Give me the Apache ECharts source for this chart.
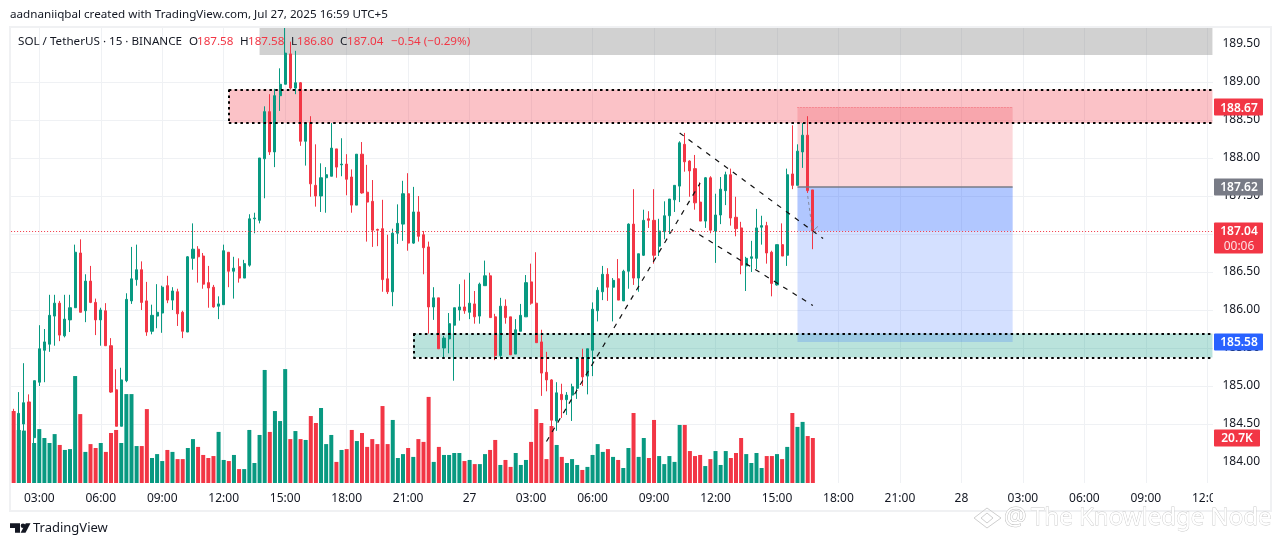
<!DOCTYPE html>
<html>
<head>
<meta charset="utf-8">
<style>html,body{margin:0;padding:0;background:#fff;}#c{width:1281px;height:546px;}</style>
<script src="https://cdn.jsdelivr.net/npm/echarts@6/dist/echarts.min.js"></script>
</head>
<body>
<div id="c"></div>
<script>
const opens=[184.66,184.20,184.50,184.79,184.32,185.05,185.47,185.55,185.92,186.09,185.66,185.87,186.03,186.75,185.99,186.38,186.10,185.87,185.99,185.53,184.95,184.47,185.07,186.12,186.40,186.53,186.12,185.72,185.92,185.96,186.32,186.13,186.24,185.97,185.71,186.68,186.80,186.71,186.36,186.30,186.05,186.07,186.76,186.51,186.57,186.42,186.59,187.20,187.18,187.99,188.61,188.08,188.82,188.97,189.37,188.92,188.99,188.22,188.47,187.64,187.50,187.74,187.76,188.12,187.91,187.92,187.75,187.38,188.05,187.55,187.43,187.06,187.07,186.41,186.24,187.01,187.13,187.53,186.88,187.29,186.99,186.83,186.04,186.16,185.50,185.62,185.80,186.00,186.04,185.97,186.08,185.92,186.32,186.45,185.91,185.40,186.05,185.91,185.42,185.72,185.91,186.37,186.09,185.58,185.18,185.08,184.54,184.89,184.82,184.88,184.97,185.37,185.13,185.47,185.99,186.24,186.47,186.30,186.41,186.12,186.51,187.13,186.42,186.72,187.20,187.18,186.84,187.03,187.24,187.45,187.63,188.18,187.96,187.86,187.42,187.17,187.74,187.04,187.25,187.57,187.78,187.22,187.08,186.58,186.68,186.68,187.09,187.11,186.76,186.33,186.86,186.72,187.79,187.64,188.08,188.30,187.58];
const highs=[184.70,184.92,185.30,184.89,185.07,185.80,185.75,186.20,186.20,186.12,186.20,186.20,186.86,186.93,186.47,186.58,186.15,186.03,186.09,185.63,185.22,185.24,186.22,186.83,186.86,186.64,186.37,186.07,186.34,186.32,186.45,186.30,186.28,185.99,186.71,187.14,186.84,186.75,186.58,186.33,186.18,186.86,186.76,186.70,186.68,186.66,187.26,187.28,188.00,188.68,188.84,188.91,189.18,189.71,189.53,189.41,189.00,188.47,188.55,188.18,187.93,187.88,188.46,188.12,188.26,188.05,187.85,188.05,188.21,187.91,187.71,187.07,187.45,186.99,187.07,187.39,187.70,187.80,187.62,187.50,187.04,186.90,186.30,186.16,185.66,185.96,186.03,186.34,186.40,186.49,186.25,186.36,186.65,186.49,185.95,186.16,186.14,185.91,185.88,186.08,186.46,186.61,186.76,185.74,185.45,185.09,185.05,185.03,184.92,185.03,185.37,185.49,185.49,186.10,186.30,186.58,186.55,186.42,186.67,186.53,187.14,187.59,186.74,187.32,187.30,187.59,187.20,187.43,187.46,187.64,188.22,188.33,187.97,188.04,187.68,187.75,187.76,187.53,187.75,187.82,187.86,187.49,187.16,186.70,186.91,187.33,187.24,187.16,186.78,186.86,187.14,187.86,188.43,188.18,188.46,188.55,187.58];
const lows=[184.30,184.10,184.40,184.20,184.25,185.00,185.05,185.45,185.53,185.59,185.64,185.71,186.03,185.97,185.84,186.09,185.67,185.53,185.53,184.91,184.47,184.47,185.05,186.08,186.32,186.00,185.66,185.68,185.76,185.70,186.09,186.00,185.79,185.63,185.71,186.53,186.36,186.28,186.03,186.03,185.88,186.07,186.30,186.15,186.36,186.42,186.57,187.01,187.14,187.47,188.04,187.88,188.62,188.97,188.90,188.84,188.16,187.90,187.49,187.36,187.29,187.28,187.76,187.74,187.76,187.51,187.28,187.38,187.53,186.90,186.83,186.84,186.24,186.21,186.05,186.87,186.91,186.78,186.87,186.90,186.47,185.69,185.87,185.49,185.37,185.43,185.07,185.86,185.95,185.88,185.82,185.82,186.32,185.90,185.34,185.36,185.82,185.41,185.42,185.72,185.91,186.07,185.57,184.87,184.93,184.45,184.41,184.58,184.62,184.54,184.83,185.00,184.89,185.13,185.85,186.13,186.12,185.85,186.13,186.12,186.28,186.33,186.24,186.71,187.08,186.61,186.71,186.93,187.00,187.29,187.42,187.82,187.49,187.32,187.17,187.08,187.01,186.62,187.13,187.38,187.11,186.97,186.47,186.25,186.50,186.54,186.86,186.61,186.18,186.32,186.71,186.58,187.59,187.64,187.87,187.54,186.80];
const closes=[184.40,184.64,184.78,184.30,185.07,185.49,185.58,185.93,186.09,185.67,185.88,186.03,186.76,185.97,186.38,186.10,185.87,186.00,185.53,184.92,184.47,185.08,186.14,186.41,186.53,186.10,185.71,185.93,185.97,186.30,186.13,186.25,185.95,185.72,186.70,186.80,186.70,186.34,186.29,186.04,186.08,186.78,186.51,186.55,186.42,186.61,187.20,187.21,188.00,188.61,188.08,188.82,188.97,189.38,188.92,188.99,188.22,188.46,187.66,187.50,187.74,187.78,188.13,187.88,187.92,187.72,187.38,188.05,187.54,187.42,187.05,187.05,186.40,186.24,187.01,187.14,187.53,186.88,187.29,186.97,186.82,186.04,186.16,185.49,185.63,185.82,186.03,186.04,185.99,186.09,185.91,186.34,186.45,185.90,185.40,186.05,185.90,185.41,185.74,185.93,186.36,186.09,185.57,185.17,185.08,184.55,184.91,184.82,184.88,184.99,185.37,185.12,185.49,186.01,186.26,186.47,186.30,186.39,186.13,186.51,187.13,186.42,186.74,187.18,187.18,186.72,187.04,187.24,187.46,187.64,188.20,187.95,187.83,187.41,187.17,187.74,187.05,187.25,187.59,187.78,187.21,187.07,186.59,186.68,186.70,187.08,187.11,186.75,186.35,186.86,186.71,187.78,187.64,188.09,188.30,187.57,187.04];
const volumes=[33.1,24.4,24.1,24.1,18.4,24.8,20.7,18.4,22.5,17.5,15.2,15.6,49.2,31.7,14.3,17.9,16.1,18.4,14.3,23,24.4,18.4,40.9,40.9,17,17,34,11.5,13.3,10.1,15.2,14.3,11,11,16.1,20.2,16.6,12.9,11.5,12.4,23.5,10.6,10.1,12.9,6.4,6.4,24.4,9.2,22.1,52,23.5,33.1,28.5,52.4,20.2,23.9,20.2,19.8,30.8,27.6,34.5,17.9,22.1,9.7,15.2,15.6,24.4,19.3,23,16.6,20.2,17.9,35.4,17.9,29,11.5,13.3,16.1,12,20.2,18.9,39.6,9.7,16.6,12.9,12.9,13.8,13.8,10.1,10.6,8.7,8.7,13.3,15.2,19.8,8.3,10.6,7.4,13.8,8.3,10.6,18.9,34,27.6,11,26.2,17.5,12,9.2,11,8.3,6,7.4,12.9,17.9,14.3,15.6,12,10.6,6.9,16.1,32.2,12,20.7,11.5,29,12.4,8.7,12.4,9.7,26.7,26.7,14.7,12.4,12.9,7.8,11,14.7,8.3,14.7,11.5,13.8,20.7,13.3,9.2,13.8,6.9,12.4,12.4,13.3,11,16.6,32.2,25.8,28.1,21.6,20.7];
const tickLabels=['03:00','06:00','09:00','12:00','15:00','18:00','21:00','27','03:00','06:00','09:00','12:00','15:00','18:00','21:00','28','03:00','06:00','09:00','12:00'];
const priceTicks=[184,184.5,185,185.5,186,186.5,187,187.5,188,188.5,189,189.5];
const slotCount=235, firstTickSlot=5, tickEvery=12;
const categories=Array.from({length:slotCount},(_,i)=>String(i));
const GREEN='#089981', RED='#f23645', BLUE='#2962ff', GREY='#787b86', INK='#131722';
const FONT='"Noto Sans", sans-serif';
const isTick=i=>i>=firstTickSlot&&(i-firstTickSlot)%tickEvery===0;

const zones={grey:[48,189.7105,189.355],red:[42,188.90,188.46],green:[78,185.69,185.375]};
const plan={left:153,right:195,target:188.67,entry:187.62,stop:185.58,last:187.04};
const trendLines=[[104,184.27,134,187.67],[130,188.33,158,186.94],[132,187.07,156,186.06]];
const END=234;

const dotted={color:'#000',width:2,type:[2.5,3.3],opacity:1};
function seg(x1,y1,x2,y2,ls){return [{coord:[x1,y1],lineStyle:ls},{coord:[x2,y2]}];}
function area(x1,y1,x2,y2,color){return [{coord:[x1,y1],itemStyle:{color}},{coord:[x2,y2]}];}

const markLines=[
  seg(zones.red[0],zones.red[1],END,zones.red[1],dotted),
  seg(zones.red[0],zones.red[2],END,zones.red[2],dotted),
  seg(zones.red[0],zones.red[1],zones.red[0],zones.red[2],dotted),
  seg(zones.green[0],zones.green[1],END,zones.green[1],dotted),
  seg(zones.green[0],zones.green[2],END,zones.green[2],dotted),
  seg(zones.green[0],zones.green[1],zones.green[0],zones.green[2],dotted),
  ...trendLines.map(t=>seg(t[0],t[1],t[2],t[3],{color:'#111',width:1.2,type:[5,6],opacity:1})),
  seg(plan.left,plan.entry,plan.right,plan.entry,{color:GREY,width:1.5,type:'solid',opacity:1}),
  seg(plan.left,plan.target,plan.right,plan.target,{color:RED,width:1,type:[1,2],opacity:.5}),
  seg(155,187.5,156,187.0,{color:GREY,width:1,type:[3,3],opacity:.8}),
  seg(156,187.04,157,187.1,{color:GREY,width:1,type:'solid',opacity:.8}),
  {yAxis:plan.last,lineStyle:{color:RED,width:1,type:[1,2],opacity:1}}
];
const markAreas=[
  area(zones.grey[0],zones.grey[1],END,zones.grey[2],'rgba(135,135,135,0.38)'),
  area(zones.red[0],zones.red[1],END,zones.red[2],'rgba(242,54,69,0.3)'),
  area(zones.green[0],zones.green[1],END,zones.green[2],'rgba(8,153,129,0.28)'),
  area(plan.left,plan.target,plan.right,plan.entry,'rgba(242,54,69,0.2)'),
  area(plan.left,plan.entry,plan.right,plan.stop,'rgba(41,98,255,0.2)'),
  area(plan.left,plan.entry,plan.right,plan.last,'rgba(41,98,255,0.2)')
];

const chart=echarts.init(document.getElementById('c'),null,{renderer:'canvas',width:1281,height:546});
chart.setOption({
  animation:false,
  backgroundColor:'#fff',
  grid:{left:11.1,top:28,width:1203.9,height:455,containLabel:false},
  xAxis:{type:'category',data:categories,boundaryGap:true,
    axisLine:{show:false},axisTick:{show:false,alignWithLabel:true},
    splitLine:{show:true,alignWithLabel:true,interval:(i)=>isTick(i),lineStyle:{color:'#eff1f4',width:1}},
    axisLabel:{show:true,interval:(i)=>isTick(i),margin:9.5,hideOverlap:false,
      color:INK,fontFamily:FONT,fontSize:12,
      formatter:(v,i)=>isTick(i)?tickLabels[(i-firstTickSlot)/tickEvery]:''}},
  yAxis:[
    {type:'value',position:'right',min:183.7237,max:189.7105,
     axisLine:{show:false},axisTick:{show:false,customValues:priceTicks},
     splitLine:{show:true,showMinLine:false,showMaxLine:false,lineStyle:{color:'#eff1f4',width:1}},
     axisLabel:{margin:7.5,padding:[3,0,0,0],color:INK,fontFamily:FONT,fontSize:12,customValues:priceTicks,
       formatter:v=>Number(v).toFixed(2)}},
    {type:'value',position:'right',min:0,max:209.3,show:false,splitLine:{show:false}}
  ],
  series:[
    {type:'bar',yAxisIndex:1,barWidth:4,z:2,silent:true,
     data:volumes.map((v,i)=>({value:v,itemStyle:{color:closes[i]>opens[i]?GREEN:RED}}))},
    {type:'candlestick',z:3,barWidth:2.6,silent:true,clip:true,
     data:opens.map((o,i)=>[o,closes[i],lows[i],highs[i]]),
     itemStyle:{color:GREEN,color0:RED,borderColor:GREEN,borderColor0:RED,borderWidth:1},
     markArea:{silent:true,z:1,data:markAreas},
     markLine:{silent:true,symbol:'none',z:4,label:{show:false},animation:false,data:markLines}}
  ]
});

const py=v=>chart.convertToPixel({yAxisIndex:0},v);
const vy=v=>chart.convertToPixel({yAxisIndex:1},v);
function txt(x,y,text,fill,o={}){return {type:'text',z:120,silent:true,x,y,style:Object.assign({text,fill,font:`${o.size||11.65}px ${FONT}`,textAlign:o.align||'left',textVerticalAlign:'middle'},o.style||{})};}
function tag(y,h,w,bg,label,sub){
  const out=[{type:'rect',z:110,silent:true,shape:{x:1214,y:y-8.5,width:w,height:h,r:1},style:{fill:bg}}];
  out.push(txt(1239,y+1,label,'#fff',{align:'center',style:{font:`600 12px ${FONT}`}}));
  if(sub) out.push(txt(1239,y+15.5,sub,'rgba(255,255,255,.85)',{align:'center',size:12}));
  return out;
}
const vLast=volumes[volumes.length-1];
const graphics=[
  {type:'rect',z:50,silent:true,shape:{x:1213,y:28,width:3,height:456},style:{fill:'#fff'}},
  {type:'rect',z:50,silent:true,shape:{x:1213,y:484,width:57,height:26},style:{fill:'#fff'}},
  {type:'rect',z:80,silent:true,shape:{x:10,y:27,width:1261,height:484},style:{fill:'none',stroke:'#f0f1f3',lineWidth:2}},
  txt(10,15,'aadnaniiqbal created with TradingView.com, Jul 27, 2025 16:59 UTC+5',INK),
  txt(18,42,'SOL / TetherUS · 15 · BINANCE',INK),
  txt(189,42,'O',INK),txt(197,42,'187.58',RED),
  txt(240,42,'H',INK),txt(248,42,'187.58',RED),
  txt(291,42,'L',INK),txt(297,42,'186.80',RED),
  txt(340,42,'C',INK),txt(347,42,'187.04',RED),
  txt(391,42,'−0.54 (−0.29%)',RED),
  ...tag(py(plan.target),17,49,RED,plan.target.toFixed(2)),
  ...tag(py(plan.entry),17,49,GREY,plan.entry.toFixed(2)),
  ...tag(py(plan.last),31,49,RED,plan.last.toFixed(2),'00:06'),
  ...tag(py(plan.stop),17,49,BLUE,plan.stop.toFixed(2)),
  ...tag(vy(vLast),17,46,RED,vLast.toFixed(1)+'K').map(e=>{if(e.type==='text')e.x=1237;return e;}),
  {type:'polygon',z:120,silent:true,shape:{points:[[10,523.3],[20,523.3],[20,532.8],[15,532.8],[15,528],[10,528]]},style:{fill:INK}},
  {type:'circle',z:120,silent:true,shape:{cx:23,cy:525.7,r:2.3},style:{fill:INK}},
  {type:'polygon',z:120,silent:true,shape:{points:[[25.8,523.3],[30.5,523.3],[25.5,532.8],[20.6,532.8]]},style:{fill:INK}},
  txt(33,528.5,'TradingView',INK,{size:13}),
  {type:'polygon',z:120,silent:true,shape:{points:[[987,508],[1001,518],[987,528],[974,518]]},style:{fill:'none',stroke:'#cfcfcf',lineWidth:1}},
  {type:'polygon',z:120,silent:true,shape:{points:[[987,513],[993,518],[987,523],[981,518]]},style:{fill:'none',stroke:'#cfcfcf',lineWidth:1}},
  {type:'text',z:120,silent:true,x:1004,y:518,style:{text:'@',font:`25px ${FONT}`,fill:'#fff',stroke:'#bdbdbd',lineWidth:1,textVerticalAlign:'middle'}},
  {type:'text',z:120,silent:true,x:1031,y:518,style:{text:'The Knowledge Node',font:`24px ${FONT}`,fill:'#fff',stroke:'#c9c9c9',lineWidth:.8,textVerticalAlign:'middle'}}
];
chart.setOption({graphic:{elements:graphics}});
</script>
</body>
</html>
